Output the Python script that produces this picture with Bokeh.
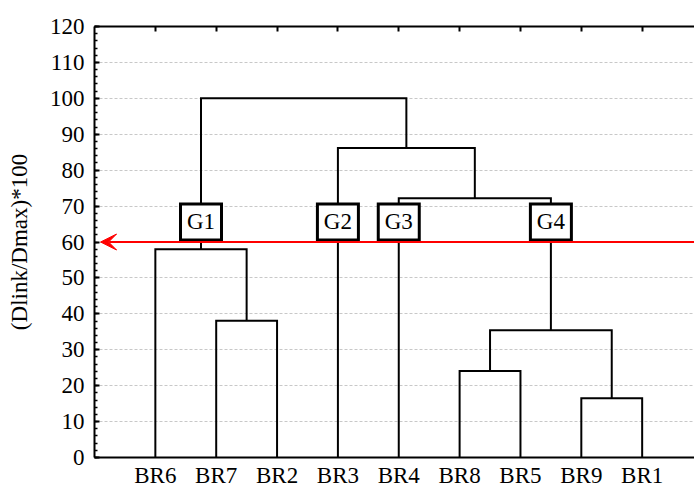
from bokeh.plotting import figure
from bokeh.models import (Range1d, LinearAxis, FixedTicker, Arrow, VeeHead,
                          ColumnDataSource)
from bokeh.core.properties import value
from bokeh.embed import file_html
from bokeh.resources import INLINE

# ---- data ----
leaves = ["BR6", "BR7", "BR2", "BR3", "BR4", "BR8", "BR5", "BR9", "BR1"]
# linkage: new node ids start at len(leaves)
merge_left = [1, 0, 5, 7, 11, 4, 3, 10]
merge_right = [2, 9, 6, 8, 12, 13, 14, 15]
merge_height = [38.1, 58.0, 24.1, 16.5, 35.4, 72.2, 86.2, 100.0]
cut_height = 60
group_names = ["G1", "G2", "G3", "G4"]
y_ticks = [0, 10, 20, 30, 40, 50, 60, 70, 80, 90, 100, 110, 120]

FONT = "Liberation Serif"
FS = "23px"
n = len(leaves)

# node positions / heights
pos = {i: i + 1 for i in range(n)}
hgt = {i: 0.0 for i in range(n)}
parent_h = {}
xs, ys = [], []
for k, (a, b, h) in enumerate(zip(merge_left, merge_right, merge_height)):
    node = n + k
    xs.append([pos[a], pos[a], pos[b], pos[b]])
    ys.append([hgt[a], h, h, hgt[b]])
    pos[node] = (pos[a] + pos[b]) / 2
    hgt[node] = h
    parent_h[a] = h
    parent_h[b] = h

groups = sorted([nd for nd in pos if hgt[nd] < cut_height and parent_h.get(nd, 0) >= cut_height],
                key=lambda nd: pos[nd])
gx = [pos[nd] for nd in groups]

p = figure(width=694, height=490, output_backend="svg", toolbar_location=None,
           x_range=Range1d(0, 9.86), y_range=Range1d(0, 120),
           x_axis_location=None, y_axis_location=None,
           min_border_left=94, min_border_right=0, min_border_top=26, min_border_bottom=32)
p.outline_line_color = None
p.background_fill_color = "white"
p.border_fill_color = "white"

# axes
left = LinearAxis(ticker=FixedTicker(ticks=y_ticks, minor_ticks=list(range(0, 121, 2))))
left.axis_label = "(Dlink/Dmax)*100"
left.axis_label_text_font = FONT
left.axis_label_text_font_size = FS
left.axis_label_text_font_style = "normal"
left.axis_label_text_color = "black"
left.axis_label_standoff = 15
left.major_label_text_font = FONT
left.major_label_text_font_size = FS
left.major_label_text_color = "black"
left.major_label_standoff = 10
left.major_tick_in = 5
left.major_tick_out = 0
left.minor_tick_in = 3
left.minor_tick_out = 0
left.axis_line_width = 2
left.major_tick_line_width = 2
left.minor_tick_line_width = 1.5
p.add_layout(left, "left")

bottom = LinearAxis(ticker=FixedTicker(ticks=list(range(1, n + 1))))
bottom.major_label_overrides = {i + 1: lab for i, lab in enumerate(leaves)}
bottom.major_label_text_font = FONT
bottom.major_label_text_font_size = FS
bottom.major_label_text_color = "black"
bottom.major_label_standoff = 5
bottom.major_tick_in = 0
bottom.major_tick_out = 0
bottom.minor_tick_line_color = None
bottom.axis_line_width = 2
p.add_layout(bottom, "below")

top = LinearAxis(ticker=FixedTicker(ticks=list(range(1, n + 1))))
top.major_label_overrides = {i + 1: "" for i in range(n)}
top.major_label_text_font_size = "1px"
top.major_label_standoff = 0
top.major_tick_in = 5
top.major_tick_out = 0
top.minor_tick_line_color = None
top.axis_line_width = 2
top.major_tick_line_width = 2
p.add_layout(top, "above")

# grid
p.xgrid.grid_line_color = None
p.ygrid.ticker = FixedTicker(ticks=y_ticks)
p.ygrid.grid_line_color = "#c8c8c8"
p.ygrid.grid_line_dash = "3 2"
p.ygrid.grid_line_width = 1

# dendrogram
p.multi_line(xs, ys, line_color="black", line_width=2, line_join="miter")

# cut line with arrow
p.add_layout(Arrow(end=VeeHead(size=16, fill_color="red", line_color="red", line_width=1),
                   x_start=9.86, y_start=cut_height, x_end=0.1, y_end=cut_height,
                   line_color="red", line_width=2))

# group labels
src = ColumnDataSource(dict(x=gx, y=[cut_height + 5.6] * len(gx), name=group_names))
p.rect("x", "y", width=41, height=36, width_units="screen", height_units="screen",
       source=src, fill_color="white", line_color="black", line_width=3, line_join="miter")
p.text("x", "y", text="name", source=src, text_align="center", text_baseline="middle",
       text_font=value(FONT), text_font_size=FS, text_color="black")

open("out.html", "w").write(file_html(p, INLINE))
